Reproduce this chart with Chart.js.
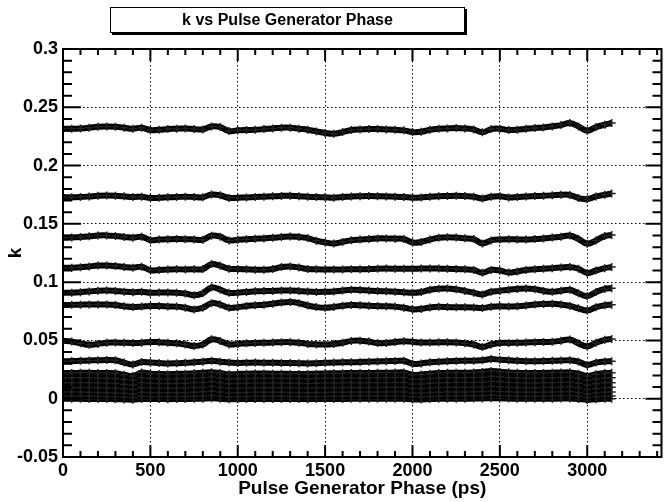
<!DOCTYPE html>
<html>
<head>
<meta charset="utf-8">
<title>k vs Pulse Generator Phase</title>
<script src="https://cdn.jsdelivr.net/npm/chart.js@4/dist/chart.umd.min.js"></script>
<style>
  html, body { margin: 0; padding: 0; background: #fff; }
  #wrap { position: relative; width: 667px; height: 502px; }
  #title-box {
    position: absolute; left: 110px; top: 7px; width: 353px; height: 24px;
    border: 1px solid #000; box-shadow: 2px 2px 0 #000; background: #fff;
    font: bold 16px "Liberation Sans", Arial, sans-serif; line-height: 24px;
    text-align: center; color: #000;
  }
</style>
</head>
<body>
<div id="wrap">
  <canvas id="chart" width="667" height="502"></canvas>
  <div id="title-box">k vs Pulse Generator Phase</div>
</div>
<script>
// phase values (ps)
const phase = [0, 50, 100, 150, 200, 250, 300, 350,
  400, 450, 500, 550, 600, 650, 700, 750,
  800, 850, 900, 950, 1000, 1050, 1100, 1150,
  1200, 1250, 1300, 1350, 1400, 1450, 1500, 1550,
  1600, 1650, 1700, 1750, 1800, 1850, 1900, 1950,
  2000, 2050, 2100, 2150, 2200, 2250, 2300, 2350,
  2400, 2450, 2500, 2550, 2600, 2650, 2700, 2750,
  2800, 2850, 2900, 2950, 3000, 3050, 3100, 3140];

// k for each curve, top to bottom
const kA = [0.2316, 0.2316, 0.2319, 0.2325, 0.2333, 0.2336, 0.2333, 0.2325,
  0.2316, 0.2325, 0.2305, 0.2307, 0.2313, 0.2316, 0.2319, 0.2313,
  0.2310, 0.2336, 0.2330, 0.2296, 0.2302, 0.2305, 0.2307, 0.2313,
  0.2319, 0.2325, 0.2325, 0.2316, 0.2307, 0.2293, 0.2279, 0.2273,
  0.2287, 0.2305, 0.2310, 0.2313, 0.2313, 0.2310, 0.2307, 0.2302,
  0.2287, 0.2290, 0.2307, 0.2316, 0.2319, 0.2322, 0.2319, 0.2310,
  0.2285, 0.2313, 0.2316, 0.2305, 0.2307, 0.2316, 0.2322, 0.2327,
  0.2336, 0.2347, 0.2365, 0.2336, 0.2299, 0.2330, 0.2350, 0.2365];
const kB = [0.1730, 0.1728, 0.1730, 0.1735, 0.1741, 0.1743, 0.1741, 0.1736,
  0.1730, 0.1733, 0.1722, 0.1724, 0.1728, 0.1730, 0.1733, 0.1730,
  0.1728, 0.1752, 0.1745, 0.1722, 0.1725, 0.1727, 0.1730, 0.1733,
  0.1736, 0.1740, 0.1741, 0.1737, 0.1733, 0.1730, 0.1728, 0.1725,
  0.1730, 0.1735, 0.1737, 0.1738, 0.1737, 0.1735, 0.1733, 0.1730,
  0.1725, 0.1727, 0.1733, 0.1737, 0.1739, 0.1741, 0.1738, 0.1733,
  0.1718, 0.1733, 0.1736, 0.1727, 0.1730, 0.1735, 0.1739, 0.1741,
  0.1745, 0.1750, 0.1748, 0.1722, 0.1712, 0.1735, 0.1750, 0.1760];
const kC = [0.1381, 0.1383, 0.1387, 0.1393, 0.1400, 0.1401, 0.1396, 0.1388,
  0.1381, 0.1389, 0.1360, 0.1365, 0.1368, 0.1370, 0.1369, 0.1366,
  0.1364, 0.1399, 0.1390, 0.1358, 0.1363, 0.1368, 0.1373, 0.1375,
  0.1380, 0.1387, 0.1392, 0.1387, 0.1378, 0.1355, 0.1341, 0.1332,
  0.1345, 0.1360, 0.1366, 0.1370, 0.1375, 0.1375, 0.1373, 0.1370,
  0.1340, 0.1345, 0.1365, 0.1380, 0.1386, 0.1382, 0.1376, 0.1370,
  0.1332, 0.1358, 0.1366, 0.1368, 0.1366, 0.1366, 0.1370, 0.1375,
  0.1383, 0.1390, 0.1400, 0.1370, 0.1330, 0.1358, 0.1395, 0.1405];
const kD = [0.1124, 0.1124, 0.1127, 0.1135, 0.1142, 0.1143, 0.1138, 0.1130,
  0.1124, 0.1132, 0.1102, 0.1105, 0.1108, 0.1110, 0.1109, 0.1110,
  0.1112, 0.1155, 0.1140, 0.1115, 0.1112, 0.1110, 0.1107, 0.1106,
  0.1112, 0.1130, 0.1135, 0.1125, 0.1113, 0.1110, 0.1109, 0.1108,
  0.1109, 0.1110, 0.1110, 0.1112, 0.1115, 0.1116, 0.1115, 0.1114,
  0.1115, 0.1116, 0.1117, 0.1116, 0.1115, 0.1112, 0.1110, 0.1105,
  0.1081, 0.1105, 0.1100, 0.1082, 0.1092, 0.1105, 0.1110, 0.1115,
  0.1120, 0.1125, 0.1130, 0.1115, 0.1078, 0.1100, 0.1120, 0.1130];
const kE = [0.0908, 0.0910, 0.0914, 0.0920, 0.0927, 0.0929, 0.0925, 0.0918,
  0.0914, 0.0918, 0.0909, 0.0911, 0.0912, 0.0910, 0.0902, 0.0888,
  0.0905, 0.0955, 0.0935, 0.0908, 0.0910, 0.0915, 0.0922, 0.0923,
  0.0925, 0.0928, 0.0929, 0.0925, 0.0919, 0.0916, 0.0917, 0.0920,
  0.0928, 0.0934, 0.0933, 0.0929, 0.0923, 0.0921, 0.0918, 0.0914,
  0.0908, 0.0915, 0.0935, 0.0944, 0.0946, 0.0938, 0.0925, 0.0910,
  0.0894, 0.0918, 0.0925, 0.0935, 0.0942, 0.0946, 0.0940, 0.0925,
  0.0917, 0.0926, 0.0934, 0.0905, 0.0880, 0.0915, 0.0942, 0.0948];
const kF = [0.0803, 0.0805, 0.0807, 0.0808, 0.0809, 0.0808, 0.0803, 0.0793,
  0.0786, 0.0790, 0.0796, 0.0795, 0.0792, 0.0790, 0.0780, 0.0766,
  0.0780, 0.0820, 0.0808, 0.0780, 0.0785, 0.0795, 0.0802, 0.0806,
  0.0815, 0.0825, 0.0829, 0.0820, 0.0800, 0.0786, 0.0780, 0.0787,
  0.0797, 0.0803, 0.0802, 0.0798, 0.0795, 0.0793, 0.0790, 0.0781,
  0.0767, 0.0770, 0.0783, 0.0788, 0.0786, 0.0784, 0.0784, 0.0782,
  0.0778, 0.0788, 0.0793, 0.0791, 0.0794, 0.0800, 0.0808, 0.0812,
  0.0814, 0.0808, 0.0796, 0.0775, 0.0757, 0.0785, 0.0802, 0.0806];
const kG = [0.0497, 0.0490, 0.0475, 0.0462, 0.0470, 0.0481, 0.0482, 0.0480,
  0.0479, 0.0481, 0.0487, 0.0485, 0.0480, 0.0475, 0.0465, 0.0452,
  0.0465, 0.0510, 0.0495, 0.0466, 0.0470, 0.0476, 0.0479, 0.0480,
  0.0482, 0.0485, 0.0485, 0.0480, 0.0470, 0.0466, 0.0465, 0.0470,
  0.0480, 0.0496, 0.0498, 0.0490, 0.0477, 0.0478, 0.0486, 0.0492,
  0.0488, 0.0482, 0.0482, 0.0484, 0.0485, 0.0482, 0.0475, 0.0465,
  0.0443, 0.0465, 0.0478, 0.0479, 0.0480, 0.0482, 0.0485, 0.0487,
  0.0488, 0.0498, 0.0508, 0.0475, 0.0448, 0.0480, 0.0505, 0.0512];
const kH = [0.0322, 0.0323, 0.0325, 0.0328, 0.0330, 0.0332, 0.0330, 0.0310,
  0.0293, 0.0315, 0.0310, 0.0306, 0.0302, 0.0304, 0.0308, 0.0312,
  0.0318, 0.0325, 0.0318, 0.0310, 0.0307, 0.0308, 0.0310, 0.0309,
  0.0308, 0.0307, 0.0306, 0.0305, 0.0303, 0.0305, 0.0308, 0.0310,
  0.0312, 0.0313, 0.0315, 0.0318, 0.0320, 0.0322, 0.0323, 0.0325,
  0.0300, 0.0303, 0.0312, 0.0318, 0.0322, 0.0324, 0.0325, 0.0325,
  0.0330, 0.0340, 0.0335, 0.0330, 0.0325, 0.0322, 0.0322, 0.0323,
  0.0325, 0.0327, 0.0330, 0.0318, 0.0290, 0.0310, 0.0320, 0.0322];
const kI = [0.0220, 0.0221, 0.0222, 0.0222, 0.0221, 0.0220, 0.0218, 0.0205,
  0.0195, 0.0225, 0.0215, 0.0212, 0.0210, 0.0212, 0.0215, 0.0218,
  0.0222, 0.0228, 0.0220, 0.0210, 0.0212, 0.0215, 0.0216, 0.0216,
  0.0215, 0.0214, 0.0213, 0.0212, 0.0213, 0.0215, 0.0217, 0.0218,
  0.0219, 0.0220, 0.0220, 0.0221, 0.0222, 0.0223, 0.0224, 0.0225,
  0.0205, 0.0208, 0.0215, 0.0220, 0.0222, 0.0223, 0.0223, 0.0224,
  0.0230, 0.0238, 0.0232, 0.0226, 0.0222, 0.0220, 0.0220, 0.0221,
  0.0223, 0.0225, 0.0226, 0.0215, 0.0195, 0.0210, 0.0220, 0.0222];
const kJ = [0.0178, 0.0179, 0.0180, 0.0180, 0.0178, 0.0176, 0.0174, 0.0168,
  0.0160, 0.0180, 0.0175, 0.0172, 0.0170, 0.0171, 0.0173, 0.0176,
  0.0180, 0.0186, 0.0178, 0.0170, 0.0171, 0.0173, 0.0175, 0.0176,
  0.0176, 0.0175, 0.0174, 0.0173, 0.0172, 0.0173, 0.0175, 0.0176,
  0.0177, 0.0178, 0.0178, 0.0178, 0.0179, 0.0180, 0.0181, 0.0181,
  0.0168, 0.0168, 0.0173, 0.0177, 0.0179, 0.0180, 0.0180, 0.0181,
  0.0185, 0.0192, 0.0188, 0.0183, 0.0180, 0.0178, 0.0177, 0.0178,
  0.0180, 0.0182, 0.0184, 0.0175, 0.0158, 0.0170, 0.0178, 0.0180];
const kK = [0.0137, 0.0138, 0.0138, 0.0137, 0.0135, 0.0133, 0.0130, 0.0124,
  0.0118, 0.0136, 0.0133, 0.0131, 0.0130, 0.0131, 0.0133, 0.0136,
  0.0139, 0.0145, 0.0137, 0.0129, 0.0130, 0.0132, 0.0134, 0.0135,
  0.0135, 0.0134, 0.0133, 0.0132, 0.0131, 0.0132, 0.0134, 0.0135,
  0.0136, 0.0137, 0.0137, 0.0137, 0.0138, 0.0138, 0.0139, 0.0139,
  0.0127, 0.0127, 0.0132, 0.0136, 0.0138, 0.0139, 0.0139, 0.0139,
  0.0142, 0.0148, 0.0145, 0.0140, 0.0137, 0.0135, 0.0135, 0.0136,
  0.0138, 0.0140, 0.0142, 0.0133, 0.0118, 0.0128, 0.0136, 0.0138];
const kL = [0.0096, 0.0097, 0.0097, 0.0096, 0.0094, 0.0092, 0.0090, 0.0085,
  0.0079, 0.0095, 0.0093, 0.0091, 0.0090, 0.0091, 0.0093, 0.0096,
  0.0099, 0.0104, 0.0097, 0.0089, 0.0090, 0.0092, 0.0094, 0.0095,
  0.0095, 0.0094, 0.0093, 0.0092, 0.0091, 0.0092, 0.0094, 0.0095,
  0.0096, 0.0097, 0.0097, 0.0097, 0.0097, 0.0098, 0.0098, 0.0098,
  0.0087, 0.0087, 0.0092, 0.0096, 0.0098, 0.0098, 0.0098, 0.0099,
  0.0101, 0.0106, 0.0103, 0.0099, 0.0096, 0.0095, 0.0095, 0.0096,
  0.0098, 0.0100, 0.0102, 0.0093, 0.0078, 0.0088, 0.0096, 0.0098];
const kM = [0.0057, 0.0057, 0.0057, 0.0056, 0.0054, 0.0052, 0.0050, 0.0046,
  0.0041, 0.0055, 0.0053, 0.0052, 0.0051, 0.0052, 0.0054, 0.0056,
  0.0059, 0.0063, 0.0057, 0.0050, 0.0051, 0.0053, 0.0055, 0.0056,
  0.0056, 0.0055, 0.0054, 0.0053, 0.0052, 0.0053, 0.0054, 0.0055,
  0.0056, 0.0057, 0.0057, 0.0057, 0.0057, 0.0058, 0.0058, 0.0058,
  0.0048, 0.0048, 0.0053, 0.0056, 0.0058, 0.0058, 0.0058, 0.0059,
  0.0061, 0.0065, 0.0062, 0.0059, 0.0056, 0.0055, 0.0055, 0.0056,
  0.0058, 0.0060, 0.0062, 0.0054, 0.0040, 0.0049, 0.0056, 0.0058];
const kN = [0.0023, 0.0023, 0.0023, 0.0022, 0.0021, 0.0020, 0.0018, 0.0015,
  0.0011, 0.0021, 0.0020, 0.0019, 0.0018, 0.0019, 0.0020, 0.0022,
  0.0024, 0.0028, 0.0023, 0.0017, 0.0018, 0.0019, 0.0021, 0.0022,
  0.0022, 0.0021, 0.0021, 0.0020, 0.0019, 0.0020, 0.0021, 0.0022,
  0.0022, 0.0023, 0.0023, 0.0023, 0.0023, 0.0024, 0.0024, 0.0024,
  0.0016, 0.0016, 0.0020, 0.0022, 0.0024, 0.0024, 0.0024, 0.0025,
  0.0026, 0.0030, 0.0028, 0.0025, 0.0023, 0.0022, 0.0022, 0.0023,
  0.0024, 0.0026, 0.0027, 0.0021, 0.0010, 0.0017, 0.0022, 0.0024];
const kO = [-0.0001, -0.0001, -0.0001, -0.0002, -0.0002, -0.0003, -0.0004, -0.0006,
  -0.0008, -0.0002, -0.0003, -0.0003, -0.0004, -0.0003, -0.0002, -0.0001,
  0.0000, 0.0003, -0.0001, -0.0005, -0.0004, -0.0003, -0.0002, -0.0002,
  -0.0002, -0.0002, -0.0003, -0.0003, -0.0004, -0.0003, -0.0003, -0.0002,
  -0.0002, -0.0001, -0.0001, -0.0001, -0.0001, -0.0001, 0.0000, 0.0000,
  -0.0006, -0.0006, -0.0003, -0.0001, 0.0000, 0.0000, 0.0000, 0.0001,
  0.0002, 0.0005, 0.0003, 0.0001, -0.0001, -0.0001, -0.0001, -0.0001,
  0.0000, 0.0001, 0.0002, -0.0002, -0.0010, -0.0005, -0.0001, 0.0000];

const xTicks = [0, 500, 1000, 1500, 2000, 2500, 3000];
const yTicks = [-0.05, 0, 0.05, 0.1, 0.15, 0.2, 0.25, 0.3];
const yTickLabels = ['-0.05', '0', '0.05', '0.1', '0.15', '0.2', '0.25', '0.3'];

const xMax = 3425;
const FONT = '"Liberation Sans", Arial, sans-serif';

const allSeries = [kA, kB, kC, kD, kE, kF, kG, kH, kI, kJ, kK, kL, kM, kN, kO];

// frame + inward ticks, ROOT style
const rootFrame = {
  id: 'rootFrame',
  afterDatasetsDraw(chart) {
    const { ctx, chartArea: a, scales: { x, y } } = chart;
    ctx.save();
    ctx.strokeStyle = '#000';
    ctx.lineWidth = 2;
    ctx.strokeRect(a.left, a.top, a.right - a.left, a.bottom - a.top);
    ctx.beginPath();
    for (let v = 0; v <= xMax; v += 100) {
      const px = x.getPixelForValue(v);
      const major = v % 500 === 0;
      ctx.moveTo(px, a.bottom); ctx.lineTo(px, a.bottom - (major ? 12 : 6));
      ctx.moveTo(px, a.top); ctx.lineTo(px, a.top + (major ? 12 : 6));
    }
    for (let i = -5; i <= 30; i++) {
      const py = y.getPixelForValue(i / 100);
      const major = i % 5 === 0;
      ctx.moveTo(a.left, py); ctx.lineTo(a.left + (major ? 18 : 9), py);
      ctx.moveTo(a.right, py); ctx.lineTo(a.right - (major ? 16 : 9), py);
    }
    ctx.stroke();
    ctx.restore();
  }
};

new Chart(document.getElementById('chart'), {
  type: 'line',
  data: {
    datasets: allSeries.map(s => ({
      data: phase.map((p, i) => ({ x: p, y: s[i] })),
      borderColor: '#000',
      borderWidth: 6,
      tension: 0.4,
      fill: false,
      pointStyle: 'cross',
      pointRadius: 4,
      pointBorderWidth: 1.5,
      pointBorderColor: '#222'
    }))
  },
  plugins: [rootFrame],
  options: {
    responsive: false,
    animation: false,
    devicePixelRatio: 1,
    layout: { padding: { top: 49, right: 1, left: 0, bottom: 0 } },
    plugins: { legend: { display: false }, tooltip: { enabled: false }, title: { display: false } },
    scales: {
      x: {
        type: 'linear',
        min: 0,
        max: xMax,
        afterBuildTicks: s => { s.ticks = xTicks.map(v => ({ value: v })); },
        afterFit: s => { s.height = 45; },
        ticks: { color: '#000', font: { family: FONT, weight: 'bold', size: 18 }, padding: 3, maxRotation: 0, autoSkip: false,
          callback: v => String(v) },
        grid: { drawTicks: false, color: c => (c.tick && c.tick.value === 0) ? 'rgba(0,0,0,0)' : '#000', lineWidth: 1 },
        border: { display: false, dash: [1.5, 2.5] },
        title: { display: true, text: 'Pulse Generator Phase (ps)', color: '#000',
          font: { family: FONT, weight: 'bold', size: 19, lineHeight: 1.2 }, padding: { top: 0, bottom: 2 } }
      },
      y: {
        min: -0.05,
        max: 0.3,
        afterBuildTicks: s => { s.ticks = yTicks.map(v => ({ value: v })); },
        afterFit: s => { s.width = 63; },
        ticks: { color: '#000', font: { family: FONT, weight: 'bold', size: 18 }, padding: 5,
          callback: v => yTickLabels[yTicks.indexOf(v)] },
        grid: { drawTicks: false, color: c => (c.tick && (c.tick.value === -0.05 || c.tick.value === 0.3)) ? 'rgba(0,0,0,0)' : '#000', lineWidth: 1 },
        border: { display: false, dash: [1.5, 2.5] },
        title: { display: true, text: 'k', color: '#000',
          font: { family: FONT, weight: 'bold', size: 19, lineHeight: 1.2 }, padding: { top: 4, bottom: 0 } }
      }
    }
  }
});
</script>
</body>
</html>
